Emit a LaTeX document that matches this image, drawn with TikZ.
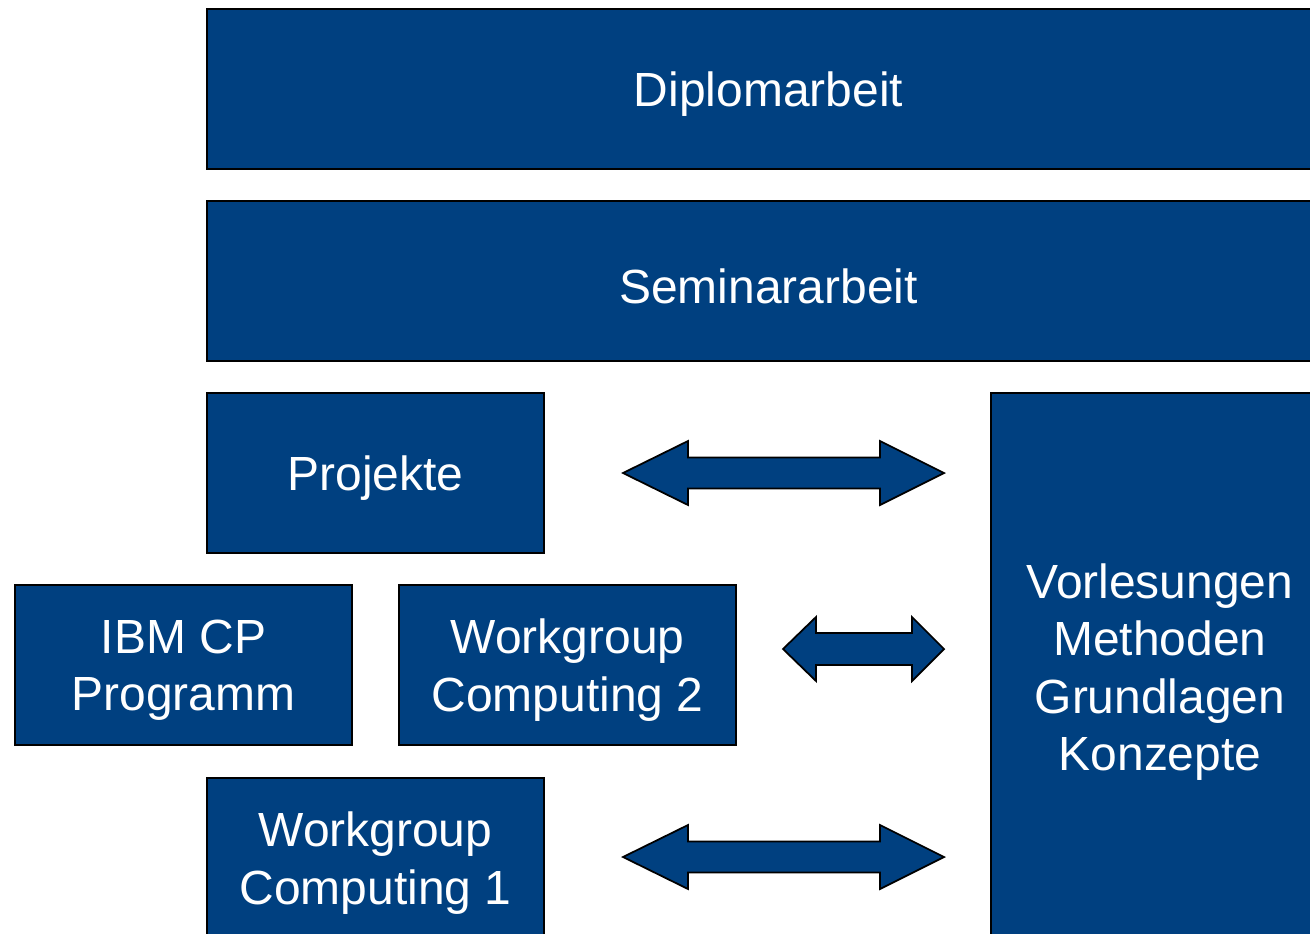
\documentclass[tikz,border=0pt]{standalone}
\usepackage{fontspec}
\setmainfont{Liberation Sans}
\usetikzlibrary{positioning}
\definecolor{stepblue}{RGB}{0,64,128}
\tikzset{
  block/.style={rectangle, draw=black, line width=1pt, fill=stepblue, inner sep=0pt},
  blocktext/.style={text=white, align=center, inner sep=0pt, yshift=-0.1cm,
    font=\fontsize{27.3}{32.6}\selectfont},
  bigarrow/.style={draw=black, line width=1pt, fill=stepblue, line join=miter}
}

\begin{document}
\begin{tikzpicture}[x=0.02cm, y=-0.02cm]
    \useasboundingbox (0,0) rectangle (1310,933);

    % top rows
    \node[block, minimum width=22.46cm, minimum height=3.2cm, label={[blocktext]center:Diplomarbeit}] (diplom) at (768.5, 89) {};
    \node[block, minimum width=22.46cm, minimum height=3.2cm, label={[blocktext]center:Seminararbeit}] (seminar) at (768.5, 281) {};

    % left side
    \node[block, minimum width=6.74cm, minimum height=3.2cm, label={[blocktext]center:Projekte}] (projekte) at (375.5, 473) {};
    \node[block, minimum width=6.74cm, minimum height=3.2cm, label={[blocktext]center:{IBM CP\\Programm}}] (ibmcp) at (183.5, 665) {};
    \node[block, minimum width=6.74cm, minimum height=3.2cm, label={[blocktext]center:{Workgroup\\Computing 2}}] (wgc2) at (567.5, 665) {};
    \node[block, minimum width=6.74cm, minimum height=3.2cm, label={[blocktext]center:{Workgroup\\Computing 1}}] (wgc1) at (375.5, 858) {};

    % right side
    \node[block, minimum width=6.76cm, minimum height=10.96cm, label={[blocktext]center:{Vorlesungen\\Methoden\\Grundlagen\\Konzepte}}] (vorl) at (1160, 667) {};

    % double arrows
    \draw[bigarrow] (623,473) -- (688,441) -- (688,457.5) -- (880,457.5) -- (880,441) -- (944,473)
        -- (880,505) -- (880,488.5) -- (688,488.5) -- (688,505) -- cycle;
    \draw[bigarrow] (783,649) -- (816,617) -- (816,633) -- (912,633) -- (912,617) -- (944,649)
        -- (912,681) -- (912,665) -- (816,665) -- (816,681) -- cycle;
    \draw[bigarrow] (623,857) -- (688,825) -- (688,841.5) -- (880,841.5) -- (880,825) -- (944,857)
        -- (880,889) -- (880,872.5) -- (688,872.5) -- (688,889) -- cycle;
\end{tikzpicture}
\end{document}
